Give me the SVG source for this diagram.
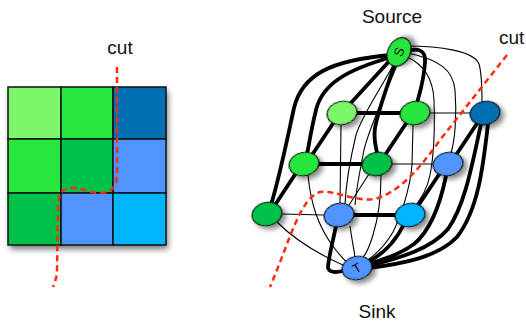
<svg xmlns="http://www.w3.org/2000/svg" width="526" height="329" viewBox="0 0 526 329">
<defs>
<filter id="sh" x="-40%" y="-40%" width="190%" height="190%"><feDropShadow dx="3" dy="4" stdDeviation="2.5" flood-color="#000" flood-opacity="0.45"/></filter>
<filter id="gsh" x="-10%" y="-10%" width="125%" height="125%"><feDropShadow dx="2" dy="4" stdDeviation="3" flood-color="#000" flood-opacity="0.55"/></filter>
</defs>
<style>
.lbl{font-family:"Liberation Sans",Arial,sans-serif;font-size:19px;fill:#111}
.nl{font-family:"Liberation Sans",Arial,sans-serif;font-size:13px;fill:#111}
.cell{stroke:#111;stroke-width:1.5}
.thick{fill:none;stroke:#000;stroke-width:3.8;stroke-linecap:round}
.thin{fill:none;stroke:#000;stroke-width:1.1}
.node{stroke:#000;stroke-width:1.2}
.cut{fill:none;stroke:#ff2a12;stroke-width:2.5;stroke-dasharray:6,4}
</style>
<rect width="526" height="329" fill="#fff"/>

<g id="grid">
<g filter="url(#gsh)">
<rect x="8" y="87" width="158" height="158" fill="#fff"/>
</g>
<rect class="cell" x="8" y="87" width="53" height="52" fill="#7df66b"/>
<rect class="cell" x="61" y="87" width="52" height="52" fill="#28e63c"/>
<rect class="cell" x="113" y="87" width="53" height="52" fill="#0070b3"/>
<rect class="cell" x="8" y="139" width="53" height="54" fill="#28e63c"/>
<rect class="cell" x="61" y="139" width="52" height="54" fill="#00c24a"/>
<rect class="cell" x="113" y="139" width="53" height="54" fill="#4f94ff"/>
<rect class="cell" x="8" y="193" width="53" height="52" fill="#00c24a"/>
<rect class="cell" x="61" y="193" width="52" height="52" fill="#4f94ff"/>
<rect class="cell" x="113" y="193" width="53" height="52" fill="#00b4ff"/>
<path class="cut" d="M117,67 L117,177 C116,188 110,193 100,193 C90,193 82,188 72,188 C63,188 59,192 58,205 L57,270 C57,277 55,282 53,287"/>
<text class="lbl" x="120" y="54" text-anchor="middle">cut</text>
</g>

<g id="connectors">
<path class="thin" d="M406,46 C440,46 474,51 479,64 C482,74 482,90 482,102"/>
<path class="thin" d="M408,53 C440,60 453,70 455,90 C457,115 455,140 451,153"/>
<path class="thin" d="M407,57 C425,65 433,80 434,100 C435,130 433,160 430,175 C427,190 421,198 416,205"/>
<path class="thin" d="M395,62 C380,90 362,115 356,135 C350,160 346,185 345,204"/>
<path class="thin" d="M398,63 C385,95 370,125 364,150 C359,175 356,192 355,205"/>
<path class="thin" d="M341,125 L340,204"/>
<path class="thin" d="M350,226 C352,240 354,250 355,257"/>
<path class="thin" d="M430,113 L470,113"/>
<path class="thin" d="M392,164 L433,164"/>
<path class="thin" d="M282,214 L324,215"/>
<path class="thin" d="M369,174 L349,205"/>
<path class="thin" d="M308,175 C311,205 318,225 332,245 C338,253 343,259 347,262"/>
<path class="thin" d="M277,222 C295,240 320,255 345,266"/>
<path class="thin" d="M381,175 C381,200 377,222 373,235 C369,248 366,254 363,257"/>
<path class="thin" d="M413,125 L412,165 C410,190 400,218 393,232 C385,246 376,254 368,260"/>

<path class="thick" d="M392,55 C330,60 302,75 294,108 C287,140 280,175 271,205"/>
<path class="thick" d="M392,57 C345,70 322,85 316,110 C311,130 309,145 307,154"/>
<path class="thick" d="M393,57 L349,105"/>
<path class="thick" d="M396,60 C388,85 378,110 375,128 C373,142 377,148 377,154"/>
<path class="thick" d="M404,52 C418,47 426,50 425,62 C424,80 420,92 417,103"/>
<path class="thick" d="M357,113 L400,113"/>
<path class="thick" d="M319,164 L362,164"/>
<path class="thick" d="M354,215 L395,215"/>
<path class="thick" d="M334,122 L312,155"/>
<path class="thick" d="M407,122 L385,155"/>
<path class="thick" d="M478,122 L456,155"/>
<path class="thick" d="M296,173 L275,205"/>
<path class="thick" d="M440,173 L418,206"/>
<path class="thick" d="M336,226 C332,245 328,260 328,268 C330,274 340,272 346,270"/>
<path class="thick" d="M403,226 C395,242 383,254 368,262"/>
<path class="thick" d="M446,176 C440,205 431,230 414,244 C399,255 381,260 368,264"/>
<path class="thick" d="M481,124 C472,165 465,205 448,229 C431,249 400,258 368,266"/>
<path class="thick" d="M488,124 C483,168 478,210 457,237 C437,258 400,264 369,268"/>
<path class="cut" d="M507,55 L440,140 C420,168 400,192 375,199 C355,202 335,190 320,192 C300,198 290,240 270,287"/>
</g>

<g id="S"><ellipse class="node" cx="399" cy="52" rx="15" ry="11" transform="rotate(-62 399 52)" fill="#28e63c" filter="url(#sh)"/><text class="nl" x="399" y="56.5" text-anchor="middle" transform="rotate(-70 399 52)">S</text></g>
<g id="A1"><ellipse class="node" cx="342" cy="113" rx="15" ry="11.5" transform="rotate(-12 342 113)" fill="#7df66b" filter="url(#sh)"/></g>
<g id="A2"><ellipse class="node" cx="415" cy="113" rx="15" ry="11.5" transform="rotate(-12 415 113)" fill="#28e63c" filter="url(#sh)"/></g>
<g id="A3"><ellipse class="node" cx="485" cy="113" rx="15" ry="11.5" transform="rotate(-12 485 113)" fill="#0070b3" filter="url(#sh)"/></g>
<g id="B1"><ellipse class="node" cx="304" cy="164" rx="15" ry="11.5" transform="rotate(-12 304 164)" fill="#28e63c" filter="url(#sh)"/></g>
<g id="B2"><ellipse class="node" cx="377" cy="164" rx="15" ry="11.5" transform="rotate(-12 377 164)" fill="#00c24a" filter="url(#sh)"/></g>
<g id="B3"><ellipse class="node" cx="448" cy="164" rx="15" ry="11.5" transform="rotate(-12 448 164)" fill="#4f94ff" filter="url(#sh)"/></g>
<g id="C1"><ellipse class="node" cx="267" cy="214" rx="15" ry="11.5" transform="rotate(-12 267 214)" fill="#00c24a" filter="url(#sh)"/></g>
<g id="C2"><ellipse class="node" cx="339" cy="215" rx="15" ry="11.5" transform="rotate(-12 339 215)" fill="#4f94ff" filter="url(#sh)"/></g>
<g id="C3"><ellipse class="node" cx="410" cy="215" rx="15" ry="11.5" transform="rotate(-12 410 215)" fill="#00b4ff" filter="url(#sh)"/></g>
<g id="T"><ellipse class="node" cx="357" cy="268" rx="15" ry="11.5" transform="rotate(-12 357 268)" fill="#4f94ff" filter="url(#sh)"/><text class="nl" x="357" y="272.5" text-anchor="middle" transform="rotate(-30 357 268)">T</text></g>

<g id="labels">
<text class="lbl" x="392" y="23" text-anchor="middle">Source</text>
<text class="lbl" x="499" y="44">cut</text>
<text class="lbl" x="377" y="318" text-anchor="middle">Sink</text>
</g>
</svg>
